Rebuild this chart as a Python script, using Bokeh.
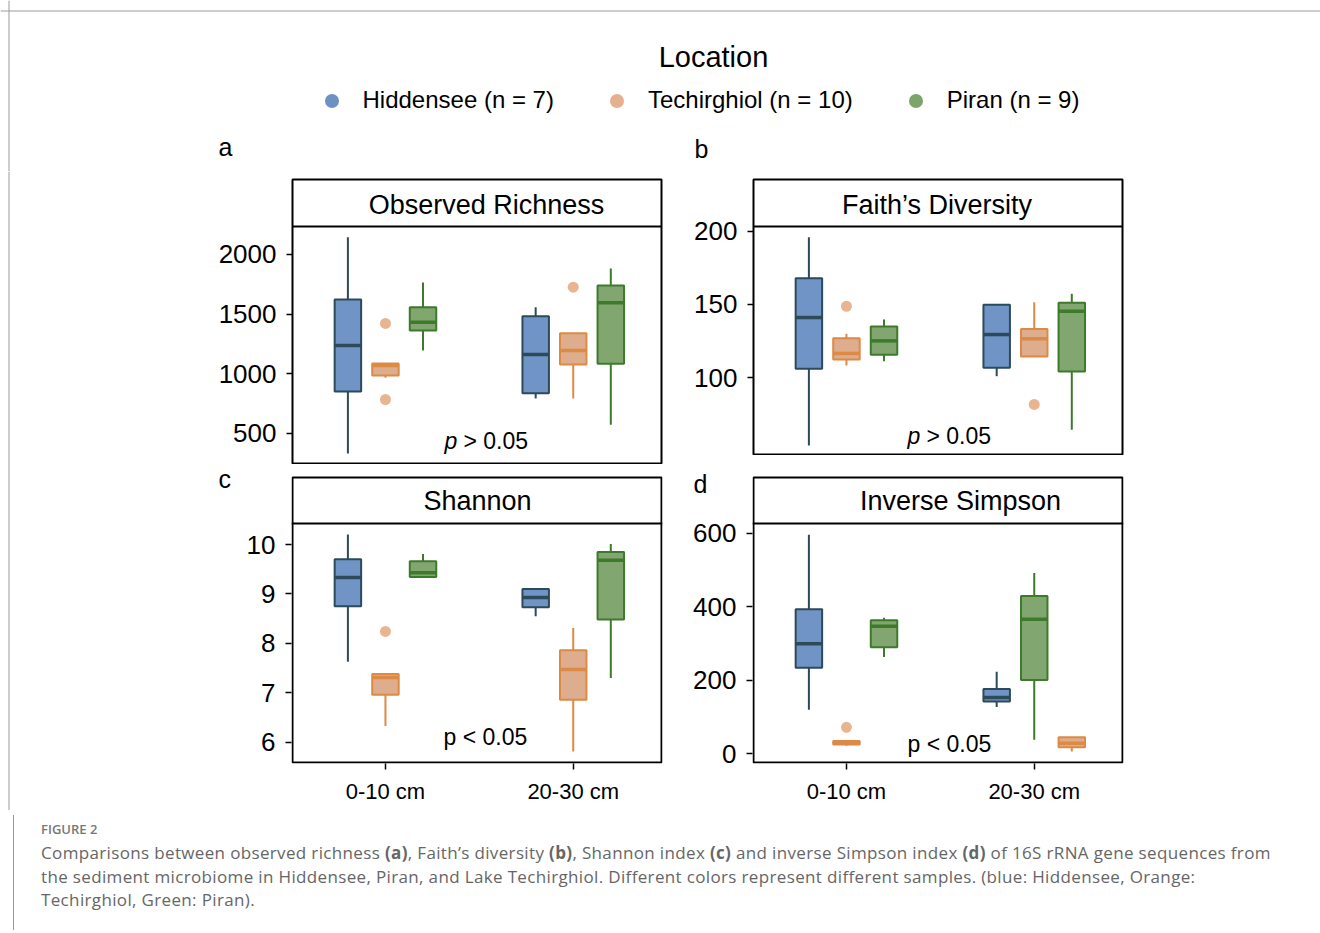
from bokeh.plotting import figure
from bokeh.models import (Range1d, FixedTicker, Span, Label, Legend, LegendItem, ColumnDataSource,
                          Div, LinearAxis, Spacer, BoxAnnotation)
from bokeh.layouts import column, row
from bokeh.embed import file_html
from bokeh.resources import INLINE

FONT = "Liberation Sans"

# ---------------- data ----------------
depths = ["0-10 cm", "20-30 cm"]
locations = ["Hiddensee", "Techirghiol", "Piran"]
legend_labels = ["Hiddensee (n = 7)", "Techirghiol (n = 10)", "Piran (n = 9)"]

# order of groups: [0-10: Hiddensee, Techirghiol, Piran, 20-30: Hiddensee, Techirghiol, Piran]
rich_lo = [332, 967, 1196, 793, 793, 573]
rich_q1 = [852, 986, 1363, 838, 1078, 1084]
rich_med = [1237, 1070, 1433, 1162, 1196, 1595]
rich_q3 = [1623, 1087, 1558, 1483, 1340, 1740]
rich_hi = [2145, 1087, 1765, 1558, 1340, 1883]
rich_out_grp = [1, 1, 4]
rich_out_val = [1422, 785, 1726]

faith_lo = [53.8, 108.4, 111.3, 101.1, 114.5, 64.5]
faith_q1 = [106.1, 112.5, 115.7, 106.8, 114.5, 104.3]
faith_med = [141.1, 116.6, 125.2, 129.5, 126.6, 145.4]
faith_q3 = [167.9, 127.0, 135.0, 149.8, 133.2, 151.2]
faith_hi = [195.9, 130.0, 139.8, 149.8, 151.6, 157.3]
faith_out_grp = [1, 4]
faith_out_val = [148.8, 81.8]

shan_lo = [7.63, 6.33, 9.34, 8.55, 5.81, 7.30]
shan_q1 = [8.75, 6.96, 9.34, 8.73, 6.86, 8.48]
shan_med = [9.33, 7.31, 9.43, 8.93, 7.47, 9.68]
shan_q3 = [9.70, 7.38, 9.66, 9.10, 7.86, 9.85]
shan_hi = [10.20, 7.38, 9.81, 9.12, 8.31, 10.01]
shan_out_grp = [1]
shan_out_val = [8.24]

invs_lo = [120, 22, 263, 127, 6, 38]
invs_q1 = [234, 25, 290, 142, 18, 201]
invs_med = [299, 31, 347, 153, 29, 366]
invs_q3 = [393, 35, 363, 176, 45, 429]
invs_hi = [596, 35, 370, 223, 45, 492]
invs_out_grp = [1]
invs_out_val = [72]

rich_ticks = [500, 1000, 1500, 2000]
faith_ticks = [100, 150, 200]
shan_ticks = [6, 7, 8, 9, 10]
invs_ticks = [0, 200, 400, 600]

# ---------------- style ----------------
fill_colors = {"Hiddensee": "#7094C6", "Techirghiol": "#DDAD8D", "Piran": "#82A66F"}
line_colors = {"Hiddensee": "#2D4A5A", "Techirghiol": "#DC8A44", "Piran": "#3E7A2C"}
dot_colors = ["#6F90C3", "#E5B08E", "#7CA46B"]
outlier_color = "#E8B590"
slot_offset = [-0.2, 0.0, 0.2]
BOX_W = 0.141
X0, X1 = 0.505, 2.47
default_order = ["Hiddensee", "Techirghiol", "Piran"]
BORDER = "#9a9a9a"


def make_panel(title, lo, q1, med, q3, hi, out_grp, out_val, ylo, yhi, ticks, fig_geom, box_geom,
               title_pos, ptext, p_italic, ppos, letter=None, letter_y=None, letter_standoff=0,
               show_x=False, order=None):
    gx, gy, w, h, mbl, mbr, mbt, mbb = fig_geom
    bl, br, bt, dt, bb = box_geom          # box left/right, strip top, data top, box bottom
    fl, fr, ft, fb = gx + mbl, gx + w - mbr, gy + mbt, gy + h - mbb
    sx = (X1 - X0) / (br - bl)
    sy = (yhi - ylo) / (bb - dt)
    if order is None:
        order = [default_order, default_order]

    p = figure(width=w, height=h,
               x_range=Range1d(X0 - (bl - fl) * sx, X1 + (fr - br) * sx),
               y_range=Range1d(ylo - (fb - bb) * sy, yhi + (dt - ft) * sy),
               output_backend="svg", toolbar_location=None,
               min_border_left=mbl, min_border_right=mbr,
               min_border_top=mbt, min_border_bottom=mbb)
    p.grid.visible = False
    p.background_fill_color = "white"
    p.border_fill_color = "white"

    def dx(px):
        return X0 + (px - bl) * sx

    def dy(py):
        return ylo + (bb - py) * sy

    framed = (fl, fr, ft, fb) == (bl, br, bt, bb)
    if framed:
        p.outline_line_color = "black"
        p.outline_line_width = 2
    else:
        p.outline_line_color = None
        p.add_layout(BoxAnnotation(left=X0, right=X1, bottom=ylo, top=dy(bt), fill_alpha=0,
                                   line_color="black", line_width=2, line_alpha=1))

    xs, fills, lines = [], [], []
    for i in range(6):
        d, loc = i // 3, locations[i % 3]
        slot = order[d].index(loc)
        xs.append(d + 1 + slot_offset[slot])
        fills.append(fill_colors[loc])
        lines.append(line_colors[loc])
    src = ColumnDataSource(dict(x=xs, lo=lo, q1=q1, med=med, q3=q3, hi=hi,
                                xl=[x - BOX_W / 2 for x in xs], xr=[x + BOX_W / 2 for x in xs],
                                fill=fills, line=lines))
    p.segment(x0="x", y0="q3", x1="x", y1="hi", line_color="line", line_width=2, source=src)
    p.segment(x0="x", y0="q1", x1="x", y1="lo", line_color="line", line_width=2, source=src)
    p.vbar(x="x", width=BOX_W, bottom="q1", top="q3", fill_color="fill",
           line_color="line", line_width=2, source=src)
    p.segment(x0="xl", y0="med", x1="xr", y1="med", line_color="line", line_width=3.5, source=src)

    osrc = ColumnDataSource(dict(x=[xs[g] for g in out_grp], y=out_val))
    p.scatter(x="x", y="y", source=osrc, size=11, fill_color=outlier_color, line_color=None)

    # strip separator + title
    p.add_layout(Span(location=yhi, dimension="width", line_color="black", line_width=2))
    p.add_layout(Label(x=dx(title_pos[0]), y=dy(title_pos[1]), text=title, text_align="center",
                       text_baseline="middle", text_font=FONT, text_font_size="27px",
                       text_color="black"))
    # p-value (positions are text centres)
    if p_italic:
        p.add_layout(Label(x=dx(ppos[0]), y=dy(ppos[1]), text="p", text_font=FONT,
                           text_font_style="italic", text_font_size="23px",
                           text_baseline="middle", text_color="black"))
        p.add_layout(Label(x=dx(ppos[0]), y=dy(ppos[1]), x_offset=19, text=ptext, text_font=FONT,
                           text_font_size="23px", text_baseline="middle", text_color="black"))
    else:
        p.add_layout(Label(x=dx(ppos[0]), y=dy(ppos[1]), text=ptext, text_font=FONT,
                           text_font_size="23px", text_baseline="middle", text_color="black"))

    ya = p.yaxis[0]
    ya.ticker = FixedTicker(ticks=ticks)
    ya.axis_line_color = None
    ya.major_tick_line_color = "black"
    ya.major_tick_line_width = 1.5
    ya.major_tick_out = 6
    ya.major_tick_in = 0
    ya.minor_tick_line_color = None
    ya.major_label_text_font = FONT
    ya.major_label_text_font_size = "26px"
    ya.major_label_text_color = "black"
    ya.major_label_standoff = 10

    if letter:
        # panel letter drawn as the only label of an outer, line-less axis
        t = round(dy(letter_y), 6)
        la = LinearAxis(ticker=FixedTicker(ticks=[t]), major_label_overrides={t: letter},
                        axis_line_color=None, major_tick_line_color=None, major_tick_out=0,
                        major_tick_in=0, minor_tick_line_color=None,
                        major_label_text_font=FONT, major_label_text_font_size="25px",
                        major_label_text_color="black", major_label_standoff=letter_standoff)
        p.add_layout(la, "left")

    xa = p.xaxis[0]
    if show_x:
        xa.ticker = FixedTicker(ticks=[1, 2])
        xa.major_label_overrides = {1: depths[0], 2: depths[1]}
        xa.axis_line_color = None
        xa.major_tick_line_color = "black"
        xa.major_tick_line_width = 1.5
        xa.major_tick_out = 6
        xa.major_tick_in = 0
        xa.minor_tick_line_color = None
        xa.major_label_text_font = FONT
        xa.major_label_text_font_size = "22px"
        xa.major_label_text_color = "black"
        xa.major_label_standoff = 9
    else:
        xa.visible = False
    return p


# fig geometry: page x, page y, width, height, border l, r, t, b
# box geometry: box left, box right, strip top, data top, box bottom (page px)
pa = make_panel("Observed Richness", rich_lo, rich_q1, rich_med, rich_q3, rich_hi,
                rich_out_grp, rich_out_val, 248.6, 2234.6, rich_ticks,
                (200, 171, 480, 293, 92, 19, 8, 1), (292, 661, 179, 226, 463), (486, 204),
                "> 0.05", True, (444, 440))
pb = make_panel("Faith’s Diversity", faith_lo, faith_q1, faith_med, faith_q3, faith_hi,
                faith_out_grp, faith_out_val, 47.0, 203.2, faith_ticks,
                (680, 171, 460, 284, 73, 18, 8, 0), (753, 1122, 179, 226, 455), (936.5, 204),
                "> 0.05", True, (907, 435))
pc = make_panel("Shannon", shan_lo, shan_q1, shan_med, shan_q3, shan_hi,
                shan_out_grp, shan_out_val, 5.589, 10.425, shan_ticks,
                (240, 464, 440, 346, 51, 18, 0, 47), (292, 661, 477, 523, 762), (477, 500.5),
                "p < 0.05", False, (443, 736), show_x=True)
pd_ = make_panel("Inverse Simpson", invs_lo, invs_q1, invs_med, invs_q3, invs_hi,
                 invs_out_grp, invs_out_val, -23.7, 626.4, invs_ticks,
                 (680, 464, 460, 346, 72, 17, 0, 47), (753, 1122, 477, 523, 762), (960, 500.5),
                 "p < 0.05", False, (907, 743), letter="d", letter_y=473, letter_standoff=-17,
                 show_x=True, order=[default_order, ["Hiddensee", "Piran", "Techirghiol"]])

# letter "c" in its own small figure left of panel c (kept fully inside its canvas)
letc = figure(width=40, height=346, x_range=Range1d(200, 240), y_range=Range1d(810, 464),
              x_axis_location=None, y_axis_location=None, min_border=0,
              output_backend="svg", toolbar_location=None)
letc.grid.visible = False
letc.outline_line_color = None
letc.add_layout(Label(x=218, y=465, text="c", text_baseline="top",
                      text_font=FONT, text_font_size="25px", text_color="black"))

# ---------------- header (legend) ----------------
hdr = figure(width=1320, height=171, x_range=Range1d(0, 1320), y_range=Range1d(171, 0),
             x_axis_location=None, y_axis_location=None, min_border=0,
             output_backend="svg", toolbar_location=None)
hdr.grid.visible = False
hdr.outline_line_color = None
hdr.add_layout(Span(location=10.5, dimension="width", line_color=BORDER, line_width=1))
hdr.add_layout(Span(location=8.5, dimension="height", line_color=BORDER, line_width=1))
hdr.add_layout(Label(x=713, y=56, text="Location", text_align="center", text_baseline="middle",
                     text_font=FONT, text_font_size="29px", text_color="black"))
hdr.add_layout(Label(x=218, y=146, text="a", text_baseline="middle",
                     text_font=FONT, text_font_size="25px", text_color="black"))
hdr.add_layout(Label(x=694, y=148, text="b", text_baseline="middle",
                     text_font=FONT, text_font_size="25px", text_color="black"))
nan = float("nan")
rs = [hdr.scatter(x=[nan], y=[nan], size=14, fill_color=c, line_color=None) for c in dot_colors]
legend = Legend(items=[LegendItem(label=lab, renderers=[r]) for lab, r in zip(legend_labels, rs)],
                orientation="horizontal", location=(313.5, 53.5), glyph_width=35, glyph_height=35,
                label_standoff=14, spacing=45, padding=0, margin=0, border_line_color=None,
                background_fill_alpha=0, label_text_font=FONT, label_text_font_size="24px",
                label_text_color="black")
hdr.add_layout(legend)

# ---------------- left border strip ----------------
left = figure(width=200, height=639, x_range=Range1d(0, 200), y_range=Range1d(0, 1),
              x_axis_location=None, y_axis_location=None, min_border=0,
              output_backend="svg", toolbar_location=None)
left.grid.visible = False
left.outline_line_color = None
left.add_layout(Span(location=8.5, dimension="height", line_color=BORDER, line_width=1))

# ---------------- caption ----------------
cap_html = (
    '<div style="margin-left:8px;border-left:1px solid #9a9a9a;height:115px;box-sizing:border-box;'
    'padding:6px 0 0 27px;font-family:\'Open Sans\';color:#666666;white-space:nowrap;">'
    '<div style="font-size:13px;font-weight:600;line-height:16px;color:#777;">FIGURE 2</div>'
    '<div style="font-size:17px;letter-spacing:0.35px;line-height:23.6px;margin-top:4px;">'
    'Comparisons between observed richness <b>(a)</b>, Faith’s diversity <b>(b)</b>, Shannon index '
    '<b>(c)</b> and inverse Simpson index <b>(d)</b> of 16S rRNA gene sequences from<br>'
    'the sediment microbiome in Hiddensee, Piran, and Lake Techirghiol. Different colors represent '
    'different samples. (blue: Hiddensee, Orange:<br>'
    'Techirghiol, Green: Piran).</div></div>'
)
caption = Div(text=cap_html, width=1320, height=115)

body = row(left, column(row(pa, column(pb, Spacer(width=460, height=9))), row(letc, pc, pd_)))
layout = column(hdr, body, caption)
open("out.html", "w").write(file_html(layout, INLINE))
